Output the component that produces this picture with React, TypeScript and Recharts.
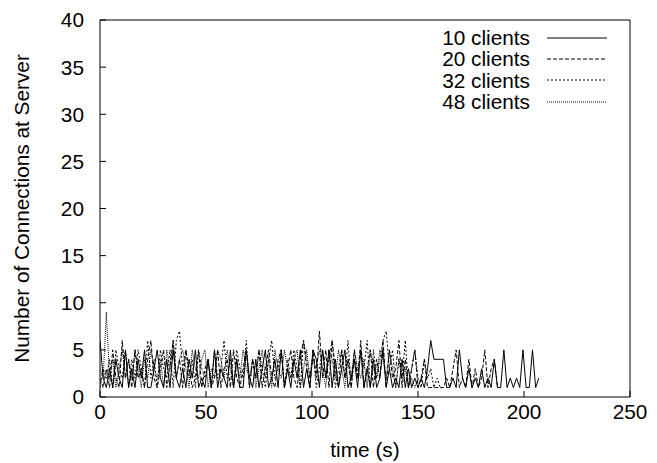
import { LineChart, Line, XAxis, YAxis, Legend } from "recharts";

// sample spacing in seconds
const STEP = 1.5;

// connections at the server, one sample every STEP seconds
const clients10 = [
  6, 2, 1, 3, 1, 4, 2, 1, 5, 1,
  3, 1, 4, 2, 5, 1, 1, 3, 5, 2,
  1, 4, 1, 5, 2, 1, 3, 1, 4, 2,
  5, 1, 2, 1, 4, 1, 5, 1, 3, 2,
  1, 5, 1, 4, 1, 1, 5, 2, 1, 4,
  1, 3, 5, 1, 2, 4, 1, 5, 1, 3,
  1, 4, 2, 5, 1, 3, 1, 5, 4, 1,
  5, 2, 5, 1, 4, 1, 3, 5, 1, 2,
  4, 1, 5, 1, 3, 1, 4, 1, 2, 5,
  1, 3, 1, 2, 1, 4, 1, 3, 1, 2,
  1, 2, 1, 3, 6, 4, 4, 4, 4, 1,
  1, 2, 1, 5, 2, 1, 3, 1, 2, 1,
  3, 1, 2, 1, 4, 1, 1, 5, 1, 2,
  1, 2, 1, 5, 1, 1, 5, 1, 2,
];

const clients20 = [
  2, 1, 3, 1, 5, 2, 1, 6, 2, 4,
  1, 5, 2, 3, 1, 4, 6, 2, 1, 3,
  5, 1, 3, 6, 2, 4, 1, 5, 3, 1,
  2, 5, 1, 3, 4, 1, 2, 5, 1, 3,
  4, 1, 5, 2, 1, 3, 5, 1, 4, 2,
  5, 1, 3, 5, 2, 1, 4, 5, 1, 3,
  5, 2, 1, 4, 6, 3, 1, 5, 2, 7,
  2, 5, 1, 6, 3, 1, 5, 2, 4, 1,
  5, 2, 6, 1, 3, 5, 1, 4, 2, 6,
  1, 5, 2, 3, 6, 1, 4, 1, 3, 5,
  1, 2, 4, 1, 1, 1, 1, 1, 1, 2,
  1, 3, 5, 1, 2, 1, 4, 1, 3, 1,
  2, 5, 1, 3, 4, 1,
];

const clients32 = [
  1, 3, 2, 4, 1, 5, 3, 2, 5, 1,
  4, 2, 5, 3, 1, 6, 2, 4, 1, 5,
  3, 2, 5, 1, 6, 7, 3, 5, 2, 4,
  1, 5, 3, 2, 4, 1, 5, 2, 3, 6,
  2, 4, 1, 5, 3, 2, 6, 1, 4, 2,
  5, 3, 1, 4, 6, 2, 3, 5, 1, 4,
  2, 5, 3, 1, 6, 4, 2, 5, 1, 3,
  5, 2, 4, 6, 1, 3, 5, 2, 6, 1,
  4, 2, 5, 3, 6, 1, 5, 2, 4, 6,
  7, 3, 5, 1, 4, 2, 6, 1, 3, 5,
  2, 1, 4, 2, 3, 1, 2, 1,
];

const clients48 = [
  3, 2, 9, 2, 4, 1, 3, 5, 2, 4,
  2, 5, 3, 1, 4, 2, 5, 3, 2, 4,
  1, 5, 3, 6, 2, 4, 5, 3, 1, 5,
  3, 2, 4, 5, 1, 3, 2, 5, 4, 2,
  5, 3, 1, 4, 2, 5, 3, 2, 4, 1,
  3, 5, 2, 4, 1, 5, 3, 2, 5, 3,
  2, 4, 5, 1, 3, 5, 2, 4, 3, 5,
  3, 1, 5, 4, 2, 5, 3, 1, 4, 2,
  5, 3, 2, 4, 1, 5, 3, 2, 5, 4,
  2, 5, 3, 1, 4, 2, 3, 1, 2, 1,
  2,
];

const seriesNames = ["10 clients", "20 clients", "32 clients", "48 clients"];
const seriesValues = [clients10, clients20, clients32, clients48];
const dashes = [undefined, "4 2", "2 2", "1 1"];

const xTicks = [0, 50, 100, 150, 200, 250];
const yTicks = [0, 5, 10, 15, 20, 25, 30, 35, 40];

const toPoints = (vals: number[]) => vals.map((v, i) => ({ t: i * STEP, v }));

const FONT = '"Liberation Sans", Arial, Helvetica, sans-serif';
const FS = 20.8;
const tickStyle = { fontSize: FS, fill: "#000", fontFamily: FONT };
const noLabel = () => <g />;

const KeyBox = () => (
  <div style={{ fontSize: FS, color: "#000", fontFamily: FONT }}>
    {seriesNames.map((name, i) => (
      <div
        key={name}
        style={{ display: "flex", alignItems: "center", height: 21.3 }}
      >
        <span style={{ width: 130, textAlign: "right", lineHeight: "21px" }}>
          {name}
        </span>
        <svg width={62} height={10} style={{ marginLeft: 17 }}>
          <line
            x1={0}
            y1={5}
            x2={60}
            y2={5}
            stroke="#000"
            strokeWidth={1}
            strokeDasharray={dashes[i]}
          />
        </svg>
      </div>
    ))}
  </div>
);

export default function App() {
  return (
    <div
      style={{
        position: "absolute",
        left: 0,
        top: 0,
        width: 657,
        height: 463,
        background: "#fff",
        fontFamily: FONT,
      }}
    >
      <LineChart
        width={657}
        height={463}
        margin={{ top: 0, right: 0, bottom: 0, left: 0 }}
      >
        <XAxis
          dataKey="t"
          type="number"
          domain={[0, 250]}
          ticks={xTicks}
          allowDataOverflow
          height={66}
          stroke="#000"
          tickSize={-6}
          tickMargin={13}
          tick={tickStyle}
          label={{
            value: "time (s)",
            position: "insideBottom",
            offset: 6,
            style: { fontSize: FS, fill: "#000", fontFamily: FONT },
          }}
        />
        <XAxis
          xAxisId="top"
          orientation="top"
          dataKey="t"
          type="number"
          domain={[0, 250]}
          ticks={xTicks}
          height={20}
          stroke="#000"
          tickSize={-6}
          tick={noLabel}
        />
        <YAxis
          type="number"
          domain={[0, 40]}
          ticks={yTicks}
          width={100}
          stroke="#000"
          tickSize={-6}
          tickMargin={22}
          tick={tickStyle}
          label={{
            value: "Number of Connections at Server",
            angle: -90,
            position: "insideLeft",
            offset: 22,
            style: {
              fontSize: FS,
              fill: "#000",
              fontFamily: FONT,
              textAnchor: "middle",
            },
          }}
        />
        <YAxis
          yAxisId="right"
          orientation="right"
          type="number"
          domain={[0, 40]}
          ticks={yTicks}
          width={27}
          stroke="#000"
          tickSize={-6}
          tick={noLabel}
        />
        <Legend
          layout="vertical"
          align="center"
          verticalAlign="middle"
          content={KeyBox}
          wrapperStyle={{ top: 27, left: 400, width: 220 }}
        />
        {seriesNames.map((name, i) => (
          <Line
            key={name}
            name={name}
            data={toPoints(seriesValues[i])}
            dataKey="v"
            type="linear"
            stroke="#000"
            strokeWidth={1}
            strokeDasharray={dashes[i]}
            dot={false}
            activeDot={false}
            isAnimationActive={false}
          />
        ))}
      </LineChart>
    </div>
  );
}
